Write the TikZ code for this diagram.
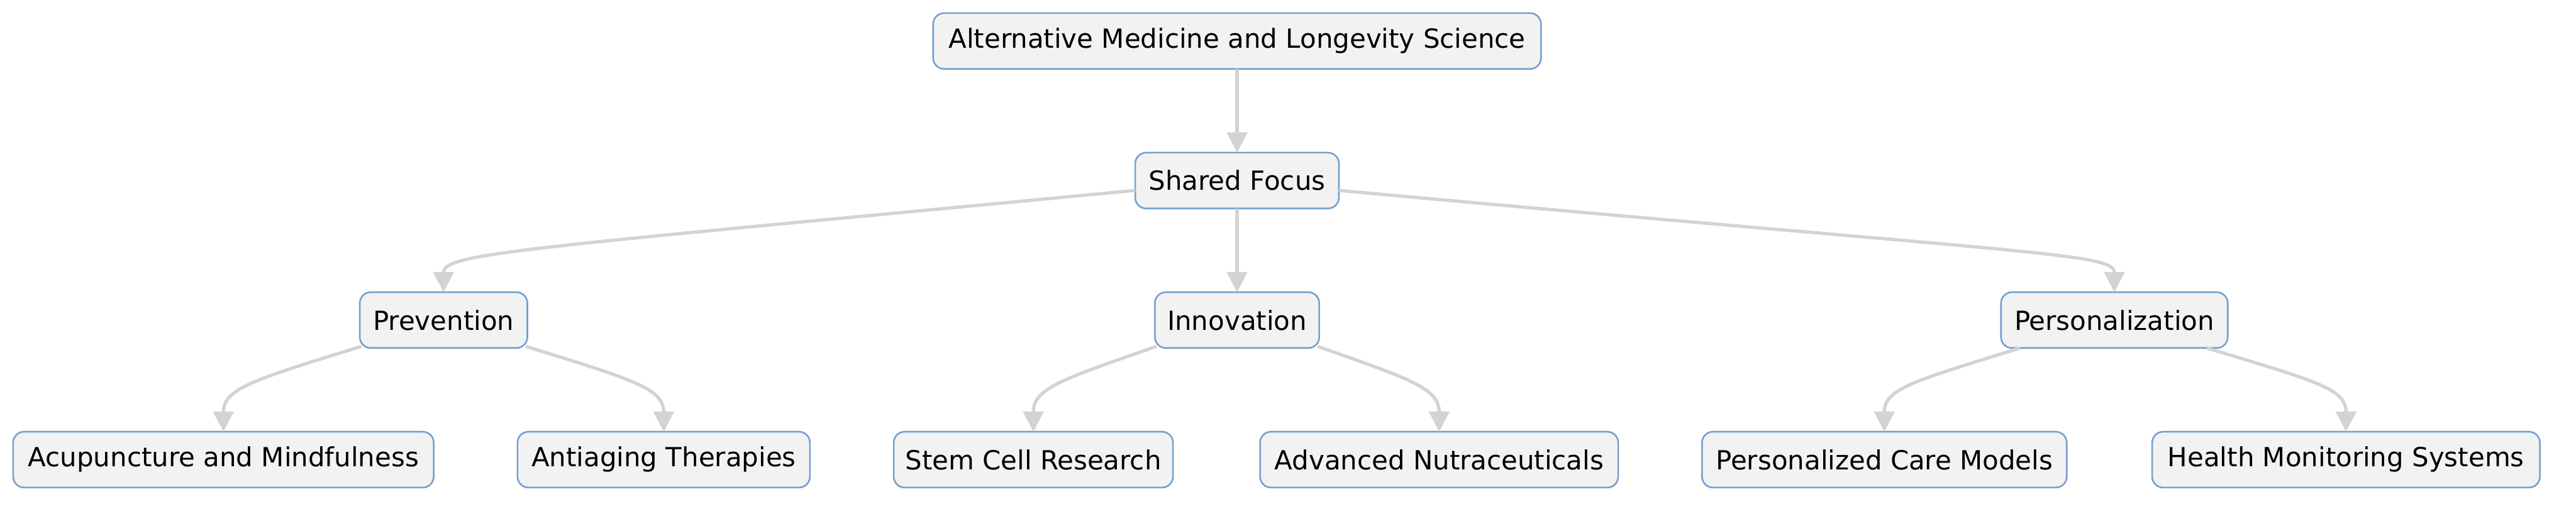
\documentclass[tikz,border=0pt]{standalone}
\usepackage{fontspec}
\setmainfont{DejaVu Sans}
\usepackage{xcolor}
\usepackage{tikz}
\usetikzlibrary{arrows.meta, positioning}

\definecolor{boxfill}{RGB}{242,242,242}
\definecolor{boxline}{RGB}{116,160,206}
\definecolor{edgegray}{RGB}{211,211,211}

\begin{document}
\begin{tikzpicture}[
  >={Triangle[length=0.37cm, width=0.37cm]},
  node distance=1.53cm,
  box/.style={rectangle, draw=boxline, line width=0.85pt, rounded corners=0.2cm, fill=boxfill, minimum height=1.02cm, inner sep=0pt, outer sep=0pt, font=\fontsize{13.7}{16.4}\selectfont},
  edge/.style={->, draw=edgegray, line width=1.7pt, color=edgegray},
]
  \useasboundingbox (0,0) rectangle (47.04,-9.30);

  \node[box, minimum width=11.10cm] (root) at (22.59,-0.75) {Alternative Medicine and Longevity Science};
  \node[box, minimum width=3.72cm, below=of root] (focus) {Shared Focus};
  \node[box, minimum width=3.00cm, below=of focus] (innov) {Innovation};
  \node[box, minimum width=3.06cm] (prev) at (8.10,-5.85) {Prevention};
  \node[box, minimum width=4.14cm] (pers) at (38.61,-5.85) {Personalization};

  \node[box, minimum width=7.68cm] (acu) at (4.08,-8.40) {Acupuncture and Mindfulness};
  \node[box, minimum width=5.34cm] (anti) at (12.12,-8.40) {Antiaging Therapies};
  \node[box, minimum width=5.10cm] (stem) at (18.87,-8.40) {Stem Cell Research};
  \node[box, minimum width=6.54cm] (nutra) at (26.28,-8.40) {Advanced Nutraceuticals};
  \node[box, minimum width=6.66cm] (care) at (34.41,-8.40) {Personalized Care Models};
  \node[box, minimum width=7.08cm] (monitor) at (42.84,-8.40) {Health Monitoring Systems};

  \draw[edge] (root) -- (focus);
  \draw[edge] (focus) -- (innov);
  \draw[edge] ([yshift=-0.18cm]focus.west) .. controls +(-11.23,-1.07) and +(0,0.72) .. (prev.north);
  \draw[edge] ([yshift=-0.18cm]focus.east) .. controls +(12.75,-1.17) and +(0,0.72) .. (pers.north);

  \draw[edge] ([shift={(0.03,0.03)}]prev.south west) .. controls +(-1.97,-0.61) and +(0,0.79) .. (acu.north);
  \draw[edge] ([shift={(-0.03,0.03)}]prev.south east) .. controls +(1.97,-0.61) and +(0,0.79) .. (anti.north);
  \draw[edge] ([shift={(0.03,0.03)}]innov.south west) .. controls +(-1.75,-0.61) and +(0,0.79) .. (stem.north);
  \draw[edge] ([shift={(-0.03,0.03)}]innov.south east) .. controls +(1.73,-0.61) and +(0,0.79) .. (nutra.north);
  \draw[edge] ([xshift=0.35cm]pers.south west) .. controls +(-1.96,-0.61) and +(0,0.79) .. (care.north);
  \draw[edge] ([xshift=-0.38cm]pers.south east) .. controls +(2.0,-0.61) and +(0,0.79) .. (monitor.north);
\end{tikzpicture}
\end{document}
